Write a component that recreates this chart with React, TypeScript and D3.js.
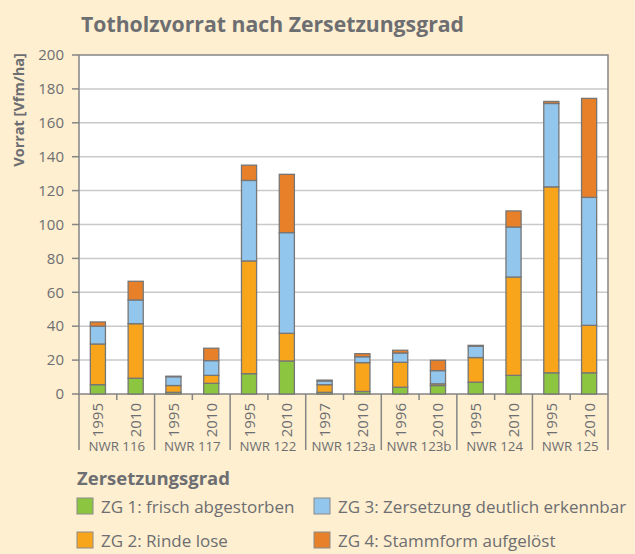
import * as d3 from "d3";

const GROUPS = ["NWR 116", "NWR 117", "NWR 122", "NWR 123a", "NWR 123b", "NWR 124", "NWR 125"];
const YEARS = ["1995", "2010", "1995", "2010", "1995", "2010", "1997", "2010", "1996", "2010", "1995", "2010", "1995", "2010"];
const ZG1 = [5.5, 9.3, 1, 6.3, 12, 19.5, 1, 1.5, 4, 5, 7, 11, 12.5, 12.5];
const ZG2 = [24, 32.2, 4, 4.7, 66.5, 16.3, 4.5, 17, 14.7, 1, 14.5, 58, 109.7, 28];
const ZG3 = [10.5, 14, 5.2, 8.7, 47.5, 59.4, 2.2, 3.5, 5.5, 7.8, 6.7, 29.5, 49.2, 75.5];
const ZG4 = [2.5, 11, 0.3, 7.3, 9, 34.4, 0.5, 1.8, 1.6, 6.1, 0.5, 9.5, 1.2, 58.4];
const SERIES = ["ZG 1: frisch abgestorben", "ZG 2: Rinde lose", "ZG 3: Zersetzung deutlich erkennbar", "ZG 4: Stammform aufgelöst"];
const COLORS = ["#8cc540", "#f8a51b", "#93c6ec", "#e8802a"];
const Y_TICKS = [0, 20, 40, 60, 80, 100, 120, 140, 160, 180, 200];

const W = 635;
const H = 554;
const FONT = "'Open Sans', sans-serif";
const TEXT = "#6d6e71";
const BG = "#feefd0";

const App = () => {
  const left = 79;
  const right = 608;
  const top = 55;
  const bottom = 394;

  const idx = YEARS.map((_, i) => i);
  const x = d3.scaleBand<number>().domain(idx).range([left, right]).paddingInner(0.6).paddingOuter(0.3);
  const y = d3.scaleLinear().domain([0, 200]).range([bottom, top]);
  const step = x.step();
  const edge = (i: number) => left + i * ((right - left) / YEARS.length);

  const rows = idx.map((i) => ({ i, ZG1: ZG1[i], ZG2: ZG2[i], ZG3: ZG3[i], ZG4: ZG4[i] }));
  const stack = d3.stack<any>().keys(["ZG1", "ZG2", "ZG3", "ZG4"])(rows);

  return (
    <svg width={W} height={H} style={{ position: "absolute", left: 0, top: 0 }} fontFamily={FONT}>
      <rect width={W} height={H} fill={BG} />
      <text x={81} y={32} fontSize={21} fontWeight="bold" fill={TEXT} textLength={383} lengthAdjust="spacingAndGlyphs">
        Totholzvorrat nach Zersetzungsgrad
      </text>

      {/* plot area */}
      <rect x={left} y={top} width={right - left} height={bottom - top} fill="#fff" />
      {Y_TICKS.filter((t) => t > 0 && t < 200).map((t) => (
        <line key={t} x1={left} x2={right} y1={y(t)} y2={y(t)} stroke="#c9c9c9" strokeWidth={1.5} />
      ))}
      <rect x={left} y={top} width={right - left} height={bottom - top} fill="none" stroke="#858585" strokeWidth={1.5} />

      {/* y axis */}
      {Y_TICKS.map((t) => (
        <g key={t}>
          <line x1={72} x2={left} y1={y(t)} y2={y(t)} stroke="#858585" strokeWidth={1.5} />
          <text x={64} y={y(t)} dy="0.35em" textAnchor="end" fontSize={15} fill={TEXT}>
            {t}
          </text>
        </g>
      ))}
      <text
        transform={`translate(24,110) rotate(-90)`}
        textAnchor="middle"
        fontSize={14.5}
        fontWeight="bold"
        fill={TEXT}
      >
        Vorrat [Vfm/ha]
      </text>

      {/* bars */}
      {stack.map((s, k) =>
        s.map((d, i) => (
          <rect
            key={`${k}-${i}`}
            x={x(i)}
            y={y(d[1])}
            width={x.bandwidth()}
            height={Math.max(0, y(d[0]) - y(d[1]))}
            fill={COLORS[k]}
            stroke="#767676"
            strokeWidth={1.3}
          />
        ))
      )}

      {/* x axis ticks and labels */}
      {d3.range(YEARS.length + 1).map((i) => (
        <line
          key={i}
          x1={edge(i)}
          x2={edge(i)}
          y1={bottom}
          y2={i % 2 === 0 ? 450 : 400}
          stroke="#858585"
          strokeWidth={1.5}
        />
      ))}
      {YEARS.map((yr, i) => (
        <text
          key={i}
          transform={`translate(${x(i)! + x.bandwidth() / 2 + 5.5},403) rotate(-90)`}
          textAnchor="end"
          fontSize={15}
          fill={TEXT}
        >
          {yr}
        </text>
      ))}
      {GROUPS.map((g, j) => (
        <text key={g} x={left + step * (2 * j + 1)} y={451} textAnchor="middle" fontSize={13.3} fill={TEXT}>
          {g}
        </text>
      ))}

      {/* legend */}
      <text x={77} y={485} fontSize={18.5} fontWeight="bold" fill={TEXT}>
        Zersetzungsgrad
      </text>
      {[0, 2, 1, 3].map((k, n) => {
        const col = n % 2;
        const row = Math.floor(n / 2);
        const lx = col === 0 ? 77 : 314;
        const ly = 498 + row * 34;
        return (
          <g key={k}>
            <rect x={lx} y={ly} width={16} height={16} fill={COLORS[k]} stroke="#8a8a8a" strokeWidth={1} />
            <text x={lx + 24} y={ly + 15} fontSize={17} fill={TEXT}>
              {SERIES[k]}
            </text>
          </g>
        );
      })}
    </svg>
  );
};

export default App;
